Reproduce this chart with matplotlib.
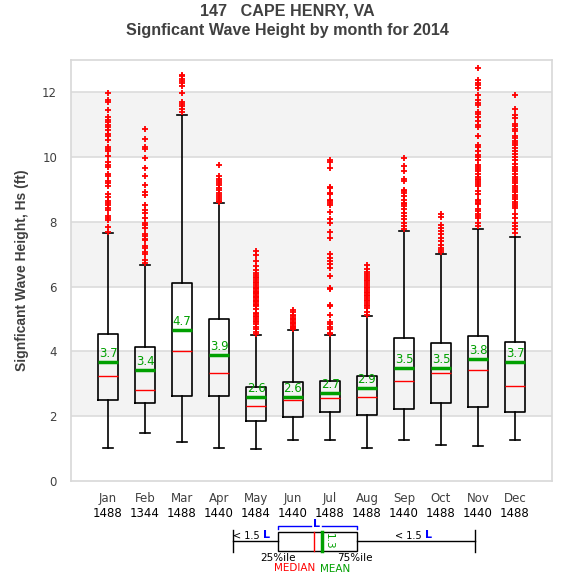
import matplotlib
matplotlib.use("Agg")
import matplotlib.pyplot as plt

months = ["Jan", "Feb", "Mar", "Apr", "May", "Jun", "Jul", "Aug", "Sep", "Oct", "Nov", "Dec"]
counts = ["1488", "1344", "1488", "1440", "1484", "1440", "1488", "1488", "1440", "1488", "1440", "1488"]
q1 = [2.50, 2.41, 2.62, 2.62, 1.86, 1.98, 2.13, 2.04, 2.23, 2.41, 2.28, 2.13]
med = [3.25, 2.82, 4.02, 3.33, 2.32, 2.49, 2.56, 2.60, 3.10, 3.35, 3.44, 2.94]
q3 = [4.55, 4.14, 6.10, 5.00, 2.90, 3.07, 3.09, 3.24, 4.42, 4.26, 4.48, 4.30]
means = [3.66, 3.42, 4.66, 3.90, 2.58, 2.59, 2.72, 2.86, 3.50, 3.48, 3.76, 3.66]
whislo = [1.03, 1.49, 1.20, 1.03, 0.99, 1.27, 1.27, 1.03, 1.27, 1.11, 1.08, 1.27]
whishi = [7.67, 6.68, 11.30, 8.58, 4.50, 4.66, 4.52, 5.08, 7.73, 7.00, 7.78, 7.54]

out_jan = [11.99, 11.76, 11.70, 11.47, 11.23, 11.15, 11.10, 10.98, 10.92, 10.85, 10.70, 10.65,
           10.52, 10.31, 10.26, 10.20, 10.05, 9.84, 9.76, 9.70, 9.49, 9.41, 9.26, 9.19, 9.12,
           8.85, 8.77, 8.64, 8.57, 8.51, 8.44, 8.36, 8.19, 8.12, 8.05, 7.84, 7.70]
out_feb = [10.88, 10.56, 10.31, 10.24, 9.97, 9.68, 9.41, 9.14, 8.92, 8.82, 8.53, 8.36, 8.28,
           8.13, 7.96, 7.89, 7.82, 7.64, 7.56, 7.48, 7.43, 7.26, 7.19, 7.07, 7.00, 6.83, 6.72]
out_mar = [12.55, 12.50, 12.42, 12.35, 12.28, 12.20, 11.99, 11.71, 11.64, 11.57, 11.50, 11.40]
out_apr = [9.77, 9.41, 9.34, 9.27, 9.21, 9.14, 9.05, 8.98, 8.90, 8.84, 8.77, 8.71, 8.65, 8.60]
out_may = [7.10, 6.98, 6.79, 6.65, 6.53, 6.42, 6.35, 6.30, 6.26, 6.20, 6.15, 6.10, 6.05, 6.00,
           5.96, 5.92, 5.88, 5.84, 5.80, 5.76, 5.72, 5.68, 5.64, 5.60, 5.56, 5.52, 5.48, 5.44,
           5.40, 5.30, 5.20, 5.15, 5.10, 5.05, 5.00, 4.95, 4.90, 4.85, 4.75, 4.68, 4.60, 4.55]
out_jun = [5.27, 5.22, 5.12, 5.08, 5.04, 5.00, 4.96, 4.92, 4.88, 4.84, 4.80, 4.76, 4.72, 4.68]
out_jul = [9.90, 9.86, 9.65, 9.08, 9.05, 8.90, 8.87, 8.69, 8.64, 8.58, 8.52, 8.31, 8.08, 7.97,
           7.69, 7.49, 7.00, 6.89, 6.79, 6.69, 6.57, 6.34, 5.97, 5.92, 5.45, 5.40, 5.14, 4.92,
           4.86, 4.75, 4.68, 4.58, 4.53]
out_aug = [6.67, 6.56, 6.46, 6.40, 6.34, 6.28, 6.22, 6.17, 6.12, 6.06, 6.00, 5.95, 5.90, 5.85,
           5.80, 5.75, 5.70, 5.65, 5.60, 5.55, 5.50, 5.45, 5.40, 5.35, 5.23, 5.12]
out_sep = [9.96, 9.74, 9.57, 9.34, 9.26, 9.00, 8.95, 8.90, 8.80, 8.69, 8.59, 8.54, 8.49, 8.39,
           8.28, 8.18, 8.08, 7.97, 7.87, 7.78]
out_oct = [8.23, 8.15, 7.90, 7.82, 7.72, 7.62, 7.50, 7.40, 7.30, 7.20, 7.12, 7.07]
out_nov = [12.74, 12.37, 12.30, 12.24, 12.14, 11.91, 11.75, 11.68, 11.61, 11.40, 11.32, 11.23,
           11.11, 11.00, 10.94, 10.65, 10.39, 10.31, 10.19, 10.08, 10.00, 9.92, 9.77, 9.70,
           9.63, 9.57, 9.47, 9.40, 9.34, 9.28, 9.22, 9.16, 9.10, 8.95, 8.85, 8.69, 8.64, 8.59,
           8.54, 8.39, 8.33, 8.26, 8.19, 8.13, 7.97, 7.87]
out_dec = [11.91, 11.49, 11.30, 11.21, 11.03, 10.95, 10.88, 10.80, 10.65, 10.58, 10.51, 10.44,
           10.37, 10.29, 10.19, 10.10, 10.00, 9.90, 9.80, 9.70, 9.63, 9.57, 9.47, 9.40, 9.33,
           9.26, 9.19, 9.12, 9.05, 8.98, 8.91, 8.84, 8.77, 8.70, 8.63, 8.56, 8.50, 8.44, 8.23,
           8.13, 7.97, 7.87, 7.77, 7.66]
outliers = [out_jan, out_feb, out_mar, out_apr, out_may, out_jun, out_jul, out_aug,
            out_sep, out_oct, out_nov, out_dec]

W, H = 575, 580
fig = plt.figure(figsize=(W / 100, H / 100), dpi=100)
ax = fig.add_axes([71 / W, 1 - 481 / H, (552 - 71) / W, (481 - 60) / H])

# background bands
for lo in (2, 6, 10):
    ax.axhspan(lo, lo + 2, color="#f3f3f3", zorder=0, lw=0)
for y in range(2, 13, 2):
    ax.axhline(y, color="#dcdcdc", lw=1.2, zorder=0.5)

stats = []
for i in range(12):
    stats.append(dict(med=med[i], q1=q1[i], q3=q3[i], whislo=whislo[i], whishi=whishi[i],
                      mean=means[i], fliers=outliers[i], label=months[i]))
pos = list(range(1, 13))
ax.bxp(stats, positions=pos, widths=0.54, showmeans=True, meanline=True,
       boxprops=dict(color="black", lw=1.2),
       whiskerprops=dict(color="black", lw=1.2),
       capprops=dict(color="black", lw=1.2),
       medianprops=dict(color="red", lw=1.0),
       meanprops=dict(color="#00a000", lw=2.5, linestyle="-"),
       flierprops=dict(marker="+", markeredgecolor="red", markersize=5, markeredgewidth=1.3),
       manage_ticks=False, zorder=3)

for i in range(12):
    ax.annotate(f"{means[i]:.1f}", (pos[i], means[i]), xytext=(0, 1.5),
                textcoords="offset points", color="#00a000", fontsize=8.5,
                ha="center", va="bottom", zorder=4)

ax.set_xlim(0, 13)
ax.set_ylim(0, 13)
ax.set_yticks(range(0, 13, 2))
ax.set_xticks(pos)
ax.set_xticklabels(months)
ax.tick_params(length=0, colors="#404040", labelsize=8.5, pad=8)
ax.tick_params(axis="y", pad=10)
for i in range(12):
    ax.text(pos[i], -0.062, counts[i], transform=ax.get_xaxis_transform(),
            ha="center", va="top", fontsize=8.5, color="black")
for s in ax.spines.values():
    s.set_color("#d8d8d8")
    s.set_linewidth(1.2)

fig.text(22 / W, 1 - 270 / H, "Signficant Wave Height, Hs (ft)", rotation=90,
         ha="center", va="center", fontsize=10, fontweight="bold", color="#404040",
         family="Liberation Sans")
fig.text(0.5, 1 - 11 / H, "147   CAPE HENRY, VA", ha="center", va="center",
         fontsize=11.6, fontweight="bold", color="#404040", family="Liberation Sans")
fig.text(0.5, 1 - 31 / H, "Signficant Wave Height by month for 2014", ha="center", va="center",
         fontsize=11.6, fontweight="bold", color="#404040", family="Liberation Sans")

# legend diagram in pixel coordinates
lg = fig.add_axes([0, 0, 1, 1], zorder=5)
lg.set_xlim(0, W)
lg.set_ylim(H, 0)
lg.axis("off")
lg.plot([232.5, 277.5], [541, 541], color="black", lw=1)
lg.plot([356.5, 474.5], [541, 541], color="black", lw=1)
lg.plot([232.5, 232.5], [530, 552], color="black", lw=1)
lg.plot([474.5, 474.5], [530, 552], color="black", lw=1)
lg.add_patch(plt.Rectangle((277.5, 531.5), 79, 19, fill=False, ec="black", lw=1))
lg.plot([313.5, 313.5], [531.5, 550.5], color="red", lw=1)
lg.plot([321.5, 321.5], [531.5, 550.5], color="#00a000", lw=2.5)
lg.text(329, 541, "1.3", rotation=-90, color="#00a000", fontsize=7.5, ha="center", va="center")
lg.plot([277.5, 277.5, 311], [529, 525.5, 525.5], color="blue", lw=1)
lg.plot([322, 356.5, 356.5], [525.5, 525.5, 529], color="blue", lw=1)
lg.text(316.5, 524, "L", color="blue", fontsize=8, fontweight="bold", ha="center", va="center")
for x_end in (260, 422):
    lg.text(x_end, 536, "< 1.5", color="black", fontsize=7, ha="right", va="center")
    lg.text(x_end + 2.5, 535.5, "L", color="blue", fontsize=8, fontweight="bold", ha="left", va="center")
lg.text(278, 558, "25%ile", color="black", fontsize=7.5, ha="center", va="center")
lg.text(355, 558, "75%ile", color="black", fontsize=7.5, ha="center", va="center")
lg.text(295, 568, "MEDIAN", color="red", fontsize=7.5, ha="center", va="center")
lg.text(335, 569.5, "MEAN", color="#00a000", fontsize=7.5, ha="center", va="center")

fig.savefig("out.png", dpi=100)
